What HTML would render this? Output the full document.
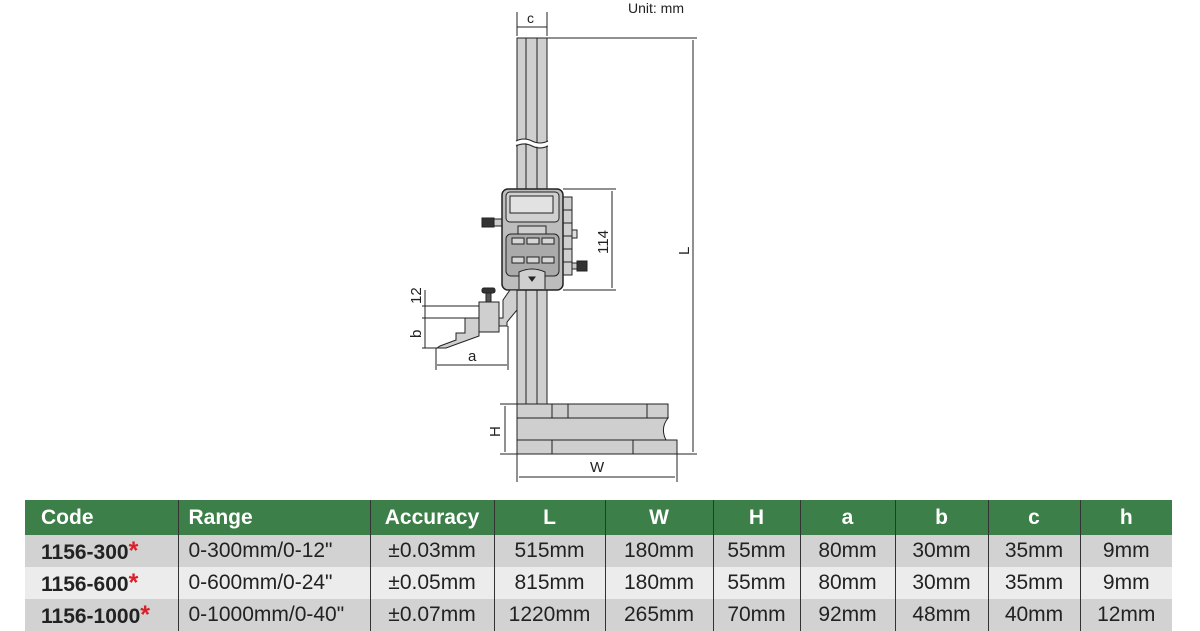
<!DOCTYPE html>
<html><head><meta charset="utf-8"><style>
body{margin:0;width:1200px;height:630px;background:#fff;overflow:hidden;position:relative;font-family:"Liberation Sans",sans-serif}
svg{position:absolute;left:0;top:0}
table{position:absolute;left:25px;top:500px;border-collapse:collapse;width:1147px;table-layout:fixed}
td,th{padding:0;height:32px;font-size:21px;color:#222;text-align:center;border-left:1.5px solid #333;white-space:nowrap}
th{background:#3d7f48;color:#fff;font-weight:bold;height:35px;font-size:21px}
td:first-child,th:first-child{border-left:none}
tr.g td{background:#d2d2d2} tr.l td{background:#ececec}
.st{color:#d8202a;font-size:25px}
</style></head><body>
<svg width="1200" height="500" viewBox="0 0 1200 500" font-family="Liberation Sans" fill="none" stroke="#222" stroke-width="1">
<text x="628" y="13" fill="#222" stroke="none" font-size="14">Unit: mm</text>
<line x1="517" y1="12" x2="517" y2="36"/><line x1="547" y1="12" x2="547" y2="36"/>
<line x1="517" y1="27" x2="547" y2="27"/>
<text x="527" y="23" fill="#222" stroke="none" font-size="14">c</text>
<rect x="517" y="38" width="30" height="366" fill="#cfcfcf"/>
<line x1="526" y1="38" x2="526" y2="404"/><line x1="537" y1="38" x2="537" y2="404"/>
<path d="M516 143 q8 -4 16 0 t16 0" stroke="#fff" stroke-width="4"/>
<path d="M516 141 q8 -4 16 0 t16 0 M516 146 q8 -4 16 0 t16 0"/>
<line x1="547" y1="38" x2="697" y2="38"/><line x1="677" y1="454" x2="697" y2="454"/>
<line x1="693" y1="40" x2="693" y2="452"/>
<text x="0" y="0" fill="#222" stroke="none" font-size="15" transform="translate(689,255) rotate(-90)">L</text>
<rect x="563" y="197" width="9" height="78" fill="#cfcfcf"/>
<line x1="563" y1="210" x2="572" y2="210"/><line x1="563" y1="223" x2="572" y2="223"/><line x1="563" y1="236" x2="572" y2="236"/><line x1="563" y1="249" x2="572" y2="249"/><line x1="563" y1="262" x2="572" y2="262"/>
<rect x="572" y="230" width="5" height="8" fill="#ddd"/>
<rect x="577" y="261" width="10" height="10" fill="#333"/><rect x="572" y="263" width="5" height="6" fill="#ccc"/>
<rect x="482" y="218" width="12" height="9" fill="#333"/><rect x="494" y="219" width="8" height="7" fill="#ccc"/>
<rect x="502" y="189" width="61" height="101" rx="6" fill="#bdbdbd" stroke-width="1.5"/>
<rect x="506" y="192" width="53" height="30" rx="4" fill="#d0d0d0"/>
<rect x="510" y="196" width="43" height="17" fill="#e2e2e2"/>
<rect x="518" y="226" width="28" height="8" fill="#cfcfcf"/>
<rect x="506" y="234" width="53" height="42" rx="5" fill="#aaa"/>
<g fill="#d6d6d6"><rect x="512" y="238" width="12" height="6"/><rect x="527" y="238" width="12" height="6"/><rect x="542" y="238" width="12" height="6"/>
<rect x="512" y="257" width="12" height="6"/><rect x="527" y="257" width="12" height="6"/><rect x="542" y="257" width="12" height="6"/></g>
<path d="M519 289 L519 272 Q532 266 545 272 L545 289" fill="#cfcfcf"/>
<path d="M529 277 h6 l-3 4z" fill="#222"/>
<line x1="563" y1="189" x2="616" y2="189"/><line x1="563" y1="290" x2="616" y2="290"/>
<line x1="612" y1="191" x2="612" y2="288"/>
<text x="0" y="0" fill="#222" stroke="none" font-size="15" transform="translate(608,254) rotate(-90)">114</text>
<path d="M510 290 L517 290 L517 310 L507 322 L507 326 L499 326 L499 318 L503 318 L503 300 Z" fill="#cfcfcf"/>
<path d="M465 318 V333 H456 V340 L440 346 L437 348 L446 348 L479 336 V318 Z" fill="#cfcfcf"/>
<rect x="479" y="302" width="20" height="30" fill="#cfcfcf"/>
<rect x="486" y="292" width="5" height="10" fill="#555"/>
<rect x="482" y="288" width="13" height="5" rx="2" fill="#333"/>
<line x1="422" y1="306" x2="479" y2="306"/><line x1="422" y1="318" x2="465" y2="318"/><line x1="422" y1="348" x2="440" y2="348"/>
<line x1="425" y1="290" x2="425" y2="348"/>
<text x="0" y="0" fill="#222" stroke="none" font-size="15" transform="translate(421,304) rotate(-90)">12</text>
<text x="0" y="0" fill="#222" stroke="none" font-size="15" transform="translate(421,338) rotate(-90)">b</text>
<line x1="436" y1="348" x2="436" y2="370"/><line x1="508" y1="326" x2="508" y2="370"/>
<line x1="437" y1="365" x2="507" y2="365"/>
<text x="468" y="361" fill="#222" stroke="none" font-size="15">a</text>
<rect x="517" y="404" width="151" height="14" fill="#cfcfcf"/>
<line x1="552" y1="404" x2="552" y2="418"/><line x1="568" y1="404" x2="568" y2="418"/><line x1="647" y1="404" x2="647" y2="418"/>
<path d="M517 418 H668 Q660 428 666 440 L668 440 H517 Z" fill="#cfcfcf"/>
<rect x="517" y="440" width="160" height="14" fill="#cfcfcf"/>
<line x1="552" y1="440" x2="552" y2="454"/><line x1="633" y1="440" x2="633" y2="454"/>
<line x1="500" y1="404" x2="517" y2="404"/><line x1="500" y1="454" x2="517" y2="454"/>
<line x1="505" y1="406" x2="505" y2="452"/>
<text x="0" y="0" fill="#222" stroke="none" font-size="15" transform="translate(500,437) rotate(-90)">H</text>
<line x1="517" y1="454" x2="517" y2="482"/><line x1="677" y1="454" x2="677" y2="482"/>
<line x1="519" y1="477" x2="675" y2="477"/>
<text x="590" y="472" fill="#222" stroke="none" font-size="15">W</text>
</svg>
<table>
<colgroup><col style="width:153px"><col style="width:192px"><col style="width:124px"><col style="width:111px"><col style="width:108px"><col style="width:87px"><col style="width:95px"><col style="width:93px"><col style="width:92px"><col style="width:92px"></colgroup>
<tr><th style="text-align:left;padding-left:16px">Code</th><th style="text-align:left;padding-left:10px">Range</th><th>Accuracy</th><th>L</th><th>W</th><th>H</th><th>a</th><th>b</th><th>c</th><th>h</th></tr>
<tr class="g"><td style="font-weight:bold;text-align:left;padding-left:16px">1156-300<span class="st">*</span></td><td style="text-align:left;padding-left:10px">0-300mm/0-12"</td><td>±0.03mm</td><td>515mm</td><td>180mm</td><td>55mm</td><td>80mm</td><td>30mm</td><td>35mm</td><td>9mm</td></tr>
<tr class="l"><td style="font-weight:bold;text-align:left;padding-left:16px">1156-600<span class="st">*</span></td><td style="text-align:left;padding-left:10px">0-600mm/0-24"</td><td>±0.05mm</td><td>815mm</td><td>180mm</td><td>55mm</td><td>80mm</td><td>30mm</td><td>35mm</td><td>9mm</td></tr>
<tr class="g"><td style="font-weight:bold;text-align:left;padding-left:16px">1156-1000<span class="st">*</span></td><td style="text-align:left;padding-left:10px">0-1000mm/0-40"</td><td>±0.07mm</td><td>1220mm</td><td>265mm</td><td>70mm</td><td>92mm</td><td>48mm</td><td>40mm</td><td>12mm</td></tr>
</table>
</body></html>
